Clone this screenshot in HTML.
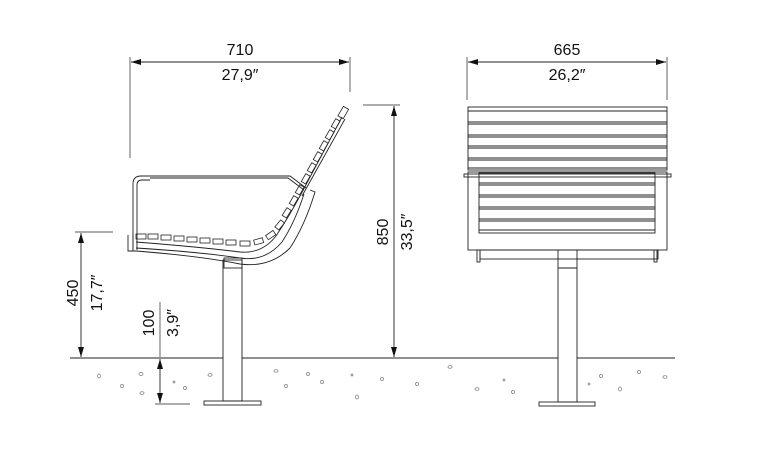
<!DOCTYPE html>
<html><head><meta charset="utf-8"><style>
html,body{margin:0;padding:0;background:#fff}
svg{display:block}
text{font-family:"Liberation Sans",sans-serif;fill:#111}
</style></head><body>
<svg width="771" height="473" viewBox="0 0 771 473" xmlns="http://www.w3.org/2000/svg">
<defs>
<marker id="a" markerWidth="10" markerHeight="6" refX="10" refY="3" orient="auto-start-reverse" markerUnits="userSpaceOnUse"><path d="M0,0 L10,3 L0,6z" fill="#111"/></marker>
</defs>
<g stroke="#222" fill="none" stroke-width="0.9">
<!-- dimension 710 -->
<line x1="130" y1="57" x2="130" y2="158" stroke-width="0.7"/>
<line x1="350" y1="57" x2="350" y2="92" stroke-width="0.7"/>
<line x1="131" y1="62" x2="349" y2="62" marker-start="url(#a)" marker-end="url(#a)"/>
<!-- 665 -->
<line x1="467" y1="57" x2="467" y2="100" stroke-width="0.7"/>
<line x1="667" y1="57" x2="667" y2="100" stroke-width="0.7"/>
<line x1="468" y1="62" x2="666" y2="62" marker-start="url(#a)" marker-end="url(#a)"/>
<!-- 850 -->
<line x1="363" y1="105" x2="400" y2="105" stroke-width="0.7"/>
<line x1="394" y1="106" x2="394" y2="357" marker-start="url(#a)" marker-end="url(#a)"/>
<!-- 450 -->
<line x1="75" y1="232" x2="113" y2="232" stroke-width="0.7"/>
<line x1="81" y1="233" x2="81" y2="357" marker-start="url(#a)" marker-end="url(#a)"/>
<!-- 100 -->
<line x1="160" y1="302" x2="160" y2="357" stroke-width="0.7"/>
<line x1="160" y1="359" x2="160" y2="403" marker-start="url(#a)" marker-end="url(#a)"/>
<line x1="155" y1="404" x2="190" y2="404" stroke-width="0.7"/>
<!-- ground -->
<line x1="70" y1="358" x2="223" y2="358"/>
<line x1="242" y1="358" x2="558" y2="358"/>
<line x1="577" y1="358" x2="675" y2="358"/>

<!-- SIDE VIEW -->
<rect x="223" y="260" width="19" height="141"/>
<rect x="204" y="401" width="57" height="4"/>
<rect x="224" y="258" width="18" height="10"/>
<!-- arm -->
<path d="M133 250 L133 184 Q133 176 141 176 L290 176 L306 188"/>
<path d="M137 250 L137 185 Q137 180 142 180 L150 180"/>
<path d="M150 178 L288 178 L304 190"/>
<!-- seat frame -->
<path d="M128 235 L128 251 L136 251 Q200 256 240 264 Q270 268 290 248 Q305 225 315 192 L310 190"/>
<path d="M136 248 Q200 252 240 258 Q265 262 282 242 Q295 222 304 194"/>
<path d="M136 242 Q200 247 240 252 Q262 254 276 236 Q288 218 300 196 L342 117"/>
<path d="M133 234 L133 251"/>
<!-- seat slats -->
<g stroke-width="0.8">
<rect x="136" y="234" width="10" height="5"/>
<rect x="148" y="234" width="10" height="5"/>
<rect x="161" y="235" width="10" height="5"/>
<rect x="174" y="236" width="10" height="5"/>
<rect x="187" y="237" width="10" height="5"/>
<rect x="200" y="238" width="10" height="5"/>
<rect x="213" y="239" width="10" height="5"/>
<rect x="226" y="240" width="10" height="5"/>
<rect x="240" y="241" width="10" height="5"/>
<rect x="254" y="239" width="9" height="5" transform="rotate(-15 258 241)"/>
<rect x="266" y="233" width="9" height="5" transform="rotate(-35 270 235)"/>
<rect x="275" y="223" width="9" height="5" transform="rotate(-50 279 225)"/>
<rect x="282" y="211" width="9" height="5" transform="rotate(-58 286 213)"/>
<rect x="289" y="199" width="9" height="5" transform="rotate(-60 293 201)"/>
<rect x="295" y="188" width="9" height="5" transform="rotate(-60 299 190)"/>
<rect x="301" y="177" width="9" height="5" transform="rotate(-60 305 179)"/>
<rect x="307" y="166" width="9" height="5" transform="rotate(-60 311 168)"/>
<rect x="313" y="155" width="9" height="5" transform="rotate(-60 317 157)"/>
<rect x="319" y="144" width="9" height="5" transform="rotate(-60 323 146)"/>
<rect x="325" y="133" width="9" height="5" transform="rotate(-60 329 135)"/>
<rect x="331" y="122" width="9" height="5" transform="rotate(-60 335 124)"/>
<rect x="338" y="110" width="11" height="6" transform="rotate(-60 343 113)"/>
</g>
<line x1="302" y1="196" x2="345" y2="119"/>

<!-- FRONT VIEW -->
<rect x="468" y="107" width="199" height="63"/>
<line x1="468" y1="111" x2="667" y2="111"/>
<line x1="468" y1="122" x2="667" y2="122"/>
<line x1="468" y1="124" x2="667" y2="124"/>
<line x1="468" y1="135" x2="667" y2="135"/>
<line x1="468" y1="137" x2="667" y2="137"/>
<line x1="468" y1="146" x2="667" y2="146"/>
<line x1="468" y1="148" x2="667" y2="148"/>
<line x1="468" y1="158" x2="667" y2="158"/>
<line x1="468" y1="160" x2="667" y2="160"/>
<line x1="468" y1="168" x2="667" y2="168"/>
<rect x="464" y="174" width="207" height="3"/>
<rect x="468" y="172" width="199" height="78"/>
<rect x="479" y="173" width="176" height="60"/>
<line x1="479" y1="183" x2="655" y2="183"/>
<line x1="479" y1="185" x2="655" y2="185"/>
<line x1="479" y1="195" x2="655" y2="195"/>
<line x1="479" y1="197" x2="655" y2="197"/>
<line x1="479" y1="207" x2="655" y2="207"/>
<line x1="479" y1="209" x2="655" y2="209"/>
<line x1="479" y1="219" x2="655" y2="219"/>
<line x1="479" y1="221" x2="655" y2="221"/>
<line x1="479" y1="230" x2="655" y2="230"/>
<rect x="480" y="250" width="178" height="9"/>
<rect x="477" y="250" width="3" height="12"/>
<rect x="654" y="250" width="3" height="12"/>
<rect x="558" y="250" width="19" height="152"/>
<line x1="558" y1="268" x2="577" y2="268"/>
<rect x="539" y="402" width="56" height="4"/>
</g>
<!-- gravel -->
<g fill="none" stroke="#777" stroke-width="0.7">
<ellipse cx="99" cy="376" rx="1.5" ry="2"/><ellipse cx="141" cy="374" rx="2" ry="1.5"/><ellipse cx="122" cy="386" rx="1.5" ry="1.5"/>
<ellipse cx="142" cy="393" rx="2" ry="1.3"/><ellipse cx="185" cy="388" rx="1.5" ry="1.5"/><ellipse cx="210" cy="375" rx="2" ry="1.3"/>
<ellipse cx="276" cy="371" rx="2" ry="1.3"/><ellipse cx="308" cy="374" rx="1.5" ry="1.5"/><ellipse cx="286" cy="386" rx="1.5" ry="1.5"/>
<ellipse cx="322" cy="382" rx="1.5" ry="1.5"/><ellipse cx="357" cy="397" rx="1.5" ry="2"/><ellipse cx="382" cy="379" rx="1.5" ry="1.5"/>
<ellipse cx="417" cy="384" rx="1.5" ry="1.5"/><ellipse cx="450" cy="367" rx="2" ry="1.3"/><ellipse cx="477" cy="389" rx="2" ry="1.3"/>
<ellipse cx="513" cy="392" rx="1.5" ry="1.5"/><ellipse cx="601" cy="376" rx="1.5" ry="1.5"/><ellipse cx="620" cy="389" rx="1.5" ry="2"/>
<ellipse cx="639" cy="372" rx="1.5" ry="1.5"/><ellipse cx="665" cy="377" rx="2" ry="1.3"/><ellipse cx="352" cy="375" rx="1" ry="1"/>
<ellipse cx="504" cy="380" rx="1" ry="1"/><ellipse cx="174" cy="382" rx="1" ry="1"/><ellipse cx="589" cy="384" rx="1" ry="1"/>
</g>
<!-- labels -->
<g font-size="16">
<text x="240" y="55" text-anchor="middle">710</text>
<text x="240" y="80" text-anchor="middle">27,9″</text>
<text x="567" y="55" text-anchor="middle">665</text>
<text x="567" y="80" text-anchor="middle">26,2″</text>
<text transform="translate(388,232) rotate(-90)" text-anchor="middle">850</text>
<text transform="translate(412,232) rotate(-90)" text-anchor="middle">33,5″</text>
<text transform="translate(78,293) rotate(-90)" text-anchor="middle">450</text>
<text transform="translate(102,293) rotate(-90)" text-anchor="middle">17,7″</text>
<text transform="translate(154,323) rotate(-90)" text-anchor="middle">100</text>
<text transform="translate(178,323) rotate(-90)" text-anchor="middle">3,9″</text>
</g>
</svg>
</body></html>
